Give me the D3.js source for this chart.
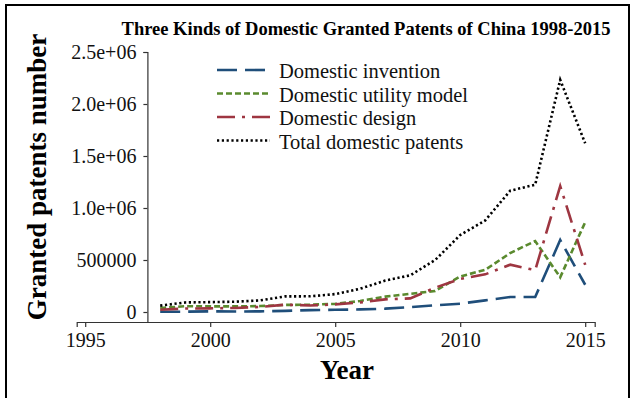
<!DOCTYPE html>
<html>
<head>
<meta charset="utf-8">
<script src="https://cdn.jsdelivr.net/npm/d3@7"></script>
<style>
  html, body { margin: 0; padding: 0; background: #fff; }
  svg { display: block; }
  svg text { font-family: "Liberation Serif", "Times New Roman", Tinos, "DejaVu Serif", serif !important; }
</style>
</head>
<body>
<svg id="chart" width="633" height="398"></svg>
<script>
const years = [1998,1999,2000,2001,2002,2003,2004,2005,2006,2007,2008,2009,2010,2011,2012,2013,2014,2015];
const invention = [2000,3000,6000,5000,6000,11000,18000,21000,25000,32000,47000,65000,80000,112000,144000,144000,692000,262000];
const utilityModel = [38000,56000,54000,54000,57000,68000,70000,78000,106000,148000,175000,202000,342000,405000,567000,682000,334000,864000];
const design = [22000,33000,35000,39000,49000,70000,63000,73000,92000,121000,131000,234000,318000,362000,455000,402000,1211000,454000];
const total = [61000,92000,95000,99000,112000,150000,151000,172000,224000,302000,352000,500000,740000,880000,1166000,1224000,2232000,1622000];

const seriesNames = ["Domestic invention","Domestic utility model","Domestic design","Total domestic patents"];
const xTickValues = [1995,2000,2005,2010,2015];
const yTickValues = [0,500000,1000000,1500000,2000000,2500000];
const yTickLabels = ["0","500000","1.0e+06","1.5e+06","2.0e+06","2.5e+06"];
const titleText = "Three Kinds of Domestic Granted Patents of China 1998-2015";
const xLabel = "Year";
const yLabel = "Granted patents number";

const styles = [
  {color:"#1f4e7a", dash:"20 8", width:2.6},
  {color:"#5a8a2e", dash:"6 3", width:2.6},
  {color:"#9e3641", dash:"18 7 3 7", width:2.6},
  {color:"#000000", dash:"2.2 2.6", width:2.6}
];
const seriesData = [invention, utilityModel, design, total];
const FONT = '"Liberation Serif", "Times New Roman", Tinos, "DejaVu Serif", serif';

const svg = d3.select("#chart");

// frame
svg.append("rect").attr("x",6).attr("y",5).attr("width",623).attr("height",420)
  .attr("fill","none").attr("stroke","#000").attr("stroke-width",2);

const x = d3.scaleLinear().domain([1994.66, 2015.38]).range([76.7, 594.7]);
const y = d3.scaleLinear().domain([-96154, 2500000]).range([322, 52]);

// x axis
const xAxis = svg.append("g").attr("transform","translate(0,322)")
  .call(d3.axisBottom(x).tickValues(xTickValues).tickFormat(d3.format("d")).tickSizeOuter(0).tickSize(5).tickPadding(6));
xAxis.attr("font-family", FONT);
xAxis.select(".domain").attr("stroke","#333").attr("stroke-width",1.2);
xAxis.selectAll(".tick line").attr("stroke","#333").attr("stroke-width",1.2);
xAxis.selectAll(".tick text").attr("font-size",20).attr("fill","#111").style("font-family", FONT);

// y axis
const yAxis = svg.append("g").attr("transform","translate(147.4,0)")
  .call(d3.axisLeft(y).tickValues(yTickValues).tickFormat((d,i)=>yTickLabels[i]).tickSizeOuter(0).tickSize(4).tickPadding(7));
yAxis.attr("font-family", FONT);
yAxis.select(".domain").attr("stroke","#333").attr("stroke-width",1.2);
yAxis.selectAll(".tick line").attr("stroke","#333").attr("stroke-width",1.2);
yAxis.selectAll(".tick text").attr("font-size",20).attr("fill","#111").style("font-family", FONT);

// lines
const line = d3.line().x((d,i)=>x(years[i])).y(d=>y(d));
seriesData.forEach((vals, k) => {
  svg.append("path").datum(vals)
    .attr("d", line)
    .attr("fill","none")
    .attr("stroke", styles[k].color)
    .attr("stroke-width", styles[k].width)
    .attr("stroke-dasharray", styles[k].dash)
    .attr("stroke-linejoin","miter");
});

// legend
const legendRows = [70, 93.5, 117, 140.5];
seriesNames.forEach((name, k) => {
  svg.append("line")
    .attr("x1",217).attr("x2",270)
    .attr("y1",legendRows[k]).attr("y2",legendRows[k])
    .attr("stroke", styles[k].color)
    .attr("stroke-width", styles[k].width)
    .attr("stroke-dasharray", styles[k].dash);
  svg.append("text")
    .attr("x",279).attr("y",legendRows[k]+8)
    .attr("font-size",20.5).attr("fill","#111")
    .style("font-family", FONT)
    .text(name);
});

// title
svg.append("text").attr("x",366).attr("y",35).attr("text-anchor","middle")
  .attr("font-size",18.5).attr("font-weight","bold").style("font-family", FONT).text(titleText);

// axis labels
svg.append("text").attr("x",347).attr("y",379).attr("text-anchor","middle")
  .attr("font-size",27).attr("font-weight","bold").style("font-family", FONT).text(xLabel);
svg.append("text").attr("transform","translate(46,177) rotate(-90)")
  .attr("text-anchor","middle")
  .attr("font-size",27).attr("font-weight","bold").style("font-family", FONT).text(yLabel);
</script>
</body>
</html>
